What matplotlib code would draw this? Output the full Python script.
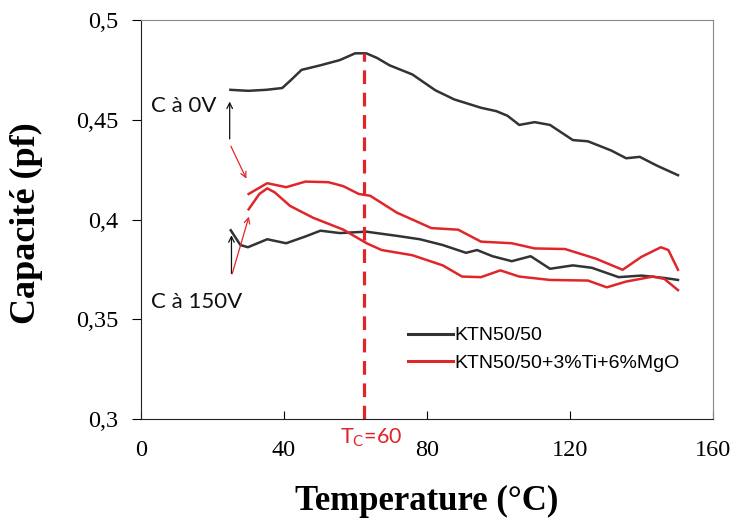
import matplotlib
matplotlib.use("Agg")
import matplotlib.pyplot as plt
import numpy as np

# KTN50/50, C at 0V (top black curve)
t_k0 = [25, 30, 35, 39.5, 42, 44.9, 50.2, 55.6, 59.9, 63, 66, 69.5, 75.9, 82.3, 87.6, 95.1,
        99.4, 102.5, 105.8, 110.1, 114.4, 120.8, 125, 131.5, 135.7, 139.5, 144.3, 150.2]
c_k0 = [0.465, 0.4645, 0.465, 0.4659, 0.470, 0.475, 0.4773, 0.4799, 0.4833, 0.4833, 0.481,
        0.4773, 0.4727, 0.4648, 0.4602, 0.456, 0.4543, 0.452, 0.4474, 0.4488, 0.4474, 0.4398,
        0.4392, 0.4346, 0.4307, 0.4314, 0.427, 0.4222]

# KTN50/50, C at 150V (lower black curve)
t_k150 = [25.1, 27.8, 29.9, 35.3, 40.6, 46, 50.2, 55.6, 63, 71.6, 78, 84.4, 90.9, 94, 98.3,
          103.7, 109, 114.4, 120.8, 126.1, 133.6, 140, 146.4, 150.2]
c_k150 = [0.3946, 0.3872, 0.3861, 0.3901, 0.3881, 0.3915, 0.3944, 0.3932, 0.3939, 0.3918,
          0.3901, 0.3872, 0.3833, 0.3847, 0.3816, 0.3791, 0.3816, 0.3753, 0.377, 0.3758,
          0.3711, 0.3719, 0.3707, 0.3697]

# KTN50/50+3%Ti+6%MgO, C at 0V (upper red curve)
t_m0 = [30.1, 35.3, 40.6, 46, 52.4, 56.6, 60.9, 64.1, 71.6, 77, 81.2, 88.7, 95.1, 103.7,
        110.1, 118.6, 127.2, 134.7, 140, 145.4, 147.5, 150.2]
c_m0 = [0.4128, 0.4182, 0.4162, 0.419, 0.4187, 0.4167, 0.4128, 0.4119, 0.4034, 0.3991,
        0.3957, 0.3949, 0.3889, 0.3881, 0.3855, 0.3852, 0.3804, 0.3748, 0.3813, 0.3861,
        0.3847, 0.3748]

# KTN50/50+3%Ti+6%MgO, C at 150V (lower red curve)
t_m150 = [30.1, 33.1, 35.3, 37.4, 41.7, 48.1, 56.6, 63.1, 67.3, 75.9, 84.4, 89.8, 95.1,
          100.5, 105.8, 114.4, 125, 130.3, 135.7, 143.2, 146.4, 150.2]
c_m150 = [0.4051, 0.4128, 0.4156, 0.4136, 0.4068, 0.4009, 0.3949, 0.3881, 0.3847, 0.3821,
          0.377, 0.3714, 0.3711, 0.3745, 0.3714, 0.3697, 0.3694, 0.366, 0.3689, 0.3714,
          0.3702, 0.3646]

x_ticks = [0, 40, 80, 120, 160]
y_ticks = [0.3, 0.35, 0.4, 0.45, 0.5]
y_labels = ["0,3", "0,35", "0,4", "0,45", "0,5"]
t_curie = 62.5

black = "#333333"
red = "#e0262b"

fig = plt.figure(figsize=(7.36, 5.18), dpi=100)
ax = fig.add_axes([0.1916, 0.1911, 0.7772, 0.7703])

ax.plot(t_k0, c_k0, color=black, lw=1.8, label="KTN50/50")
ax.plot(t_k150, c_k150, color=black, lw=1.8)
ax.plot(t_m0, c_m0, color=red, lw=1.8, label="KTN50/50+3%Ti+6%MgO")
ax.plot(t_m150, c_m150, color=red, lw=1.8)
# dashed Tc line from the axis up to the peak of the 0V curve
ax.vlines(t_curie, 0.3, max(c_k0), color=red, lw=2.3, linestyles=[(0, (4.3, 2.7))])

ax.set_xlim(0, 160)
ax.set_ylim(0.3, 0.5)
ax.set_xticks(x_ticks)
ax.set_yticks(y_ticks)
ax.set_yticklabels(y_labels)
ax.tick_params(axis="x", direction="in", length=6, pad=15, labelsize=17.5)
ax.tick_params(axis="y", direction="out", length=6.5, pad=10, labelsize=17.5)
for lab in ax.get_xticklabels() + ax.get_yticklabels():
    lab.set_fontfamily("Liberation Serif")
for s in ["top", "right"]:
    ax.spines[s].set_color("#888888")
for s in ["left", "bottom"]:
    ax.spines[s].set_color("#222222")

ax.set_ylabel("Capacité (pf)", fontsize=26, fontweight="bold", family="Liberation Serif")
ax.yaxis.set_label_coords(-0.171, 0.49)
ax.set_xlabel("Temperature (°C)", fontsize=25, fontweight="bold", family="Liberation Serif")
ax.xaxis.set_label_coords(0.5, -0.165)

# annotations
ax.text(2.7, 0.4568, "C à 0V", fontsize=16, family="Lato", va="center", ha="left", color="#111111")
ax.text(2.7, 0.3585, "C à 150V", fontsize=16, family="Lato", va="center", ha="left", color="#111111")
ax.annotate("", xy=(24.8, 0.4605), xytext=(24.8, 0.439),
            arrowprops=dict(arrowstyle="->", color="#111111", lw=0.9))
ax.annotate("", xy=(29.8, 0.4192), xytext=(24.8, 0.438),
            arrowprops=dict(arrowstyle="->", color=red, lw=0.9))
ax.annotate("", xy=(25.3, 0.3935), xytext=(25.3, 0.3715),
            arrowprops=dict(arrowstyle="->", color="#111111", lw=0.9))
ax.annotate("", xy=(30.4, 0.4028), xytext=(25.3, 0.3715),
            arrowprops=dict(arrowstyle="->", color=red, lw=0.9))

ax.text(64.3, -0.048, "T$_\\mathregular{C}$=60", transform=ax.get_xaxis_transform(),
        ha="center", va="center", color=red, fontsize=15.5, family="Lato")

leg = ax.legend(loc="upper left", bbox_to_anchor=(0.437, 0.275), frameon=False,
                handlelength=2.3, handletextpad=0.05, labelspacing=0.5,
                prop={"family": "Liberation Sans", "size": 14})
for h in leg.get_lines():
    h.set_linewidth(2.2)

fig.savefig("out.png", dpi=100)
